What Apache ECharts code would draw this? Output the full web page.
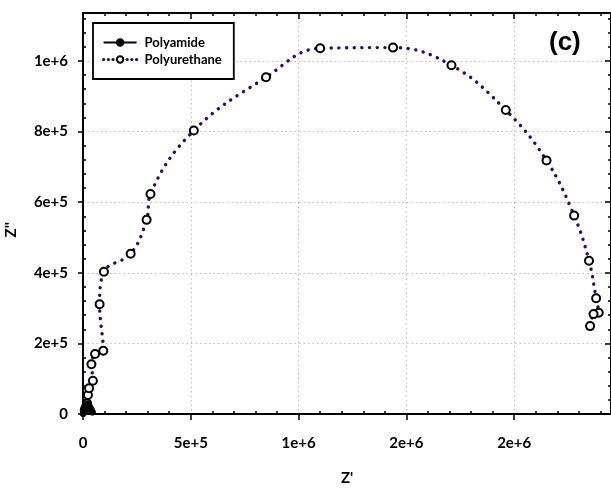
<!DOCTYPE html>
<html>
<head>
<meta charset="utf-8">
<script src="https://cdn.jsdelivr.net/npm/echarts@6/dist/echarts.min.js"></script>
<style>
  html, body { margin: 0; padding: 0; background: #fff; }
  #chart { width: 611px; height: 490px; }
</style>
</head>
<body>
<div id="chart"></div>
<script>
// Nyquist data: Z' (real) vs Z'' (imaginary), ohm
const polyamide = [
  [1e3, 1e3], [3e3, 7e3], [6e3, 1.4e4], [1.0e4, 2.1e4], [1.5e4, 2.6e4],
  [2.1e4, 2.8e4], [2.7e4, 2.5e4], [3.3e4, 1.9e4], [3.9e4, 1.2e4], [4.4e4, 5e3]
];
const polyurethane = [
  [8e3, 1.2e4], [1.4e4, 2.0e4], [1.9e4, 3.0e4], [2.3e4, 5.4e4], [2.8e4, 7.3e4],
  [4.6e4, 9.4e4], [3.9e4, 1.41e5], [5.6e4, 1.70e5], [9.4e4, 1.79e5], [7.7e4, 3.11e5],
  [9.7e4, 4.03e5], [2.21e5, 4.54e5], [2.95e5, 5.50e5], [3.13e5, 6.23e5], [5.14e5, 8.03e5],
  [8.49e5, 9.54e5], [1.10e6, 1.036e6], [1.438e6, 1.038e6], [1.709e6, 9.88e5], [1.961e6, 8.61e5],
  [2.150e6, 7.18e5], [2.278e6, 5.62e5], [2.347e6, 4.34e5], [2.380e6, 3.28e5], [2.392e6, 2.87e5],
  [2.368e6, 2.83e5], [2.352e6, 2.49e5]
];
const xTickLabels = ['0', '5e+5', '1e+6', '2e+6', '2e+6'];
const yTickLabels = ['0', '2e+5', '4e+5', '6e+5', '8e+5', '1e+6'];
const seriesNames = ['Polyamide', 'Polyurethane'];

const X_MAX = 2.449e6, X_STEP = 5e5;
const Y_MAX = 1.136e6, Y_STEP = 2e5;
const FONT = 'Lato, "Open Sans", sans-serif';

const grid = { left: 83, top: 13, width: 529, height: 401, containLabel: false };
const black = '#000';
const purple = '#2e0b5c';

function baseAxis(kind) {
  const isX = kind === 'x';
  return {
    type: 'value',
    min: 0,
    max: isX ? X_MAX : Y_MAX,
    interval: isX ? X_STEP : Y_STEP,
    axisLine: { show: false },
    axisTick: { show: false },
    minorTick: { show: false },
    axisLabel: { show: false },
    splitLine: { show: false },
    minorSplitLine: { show: false }
  };
}

function tickLabel(labels, step) {
  return v => {
    const i = Math.round(v / step);
    return (labels[i] !== undefined && Math.abs(v - i * step) < 1) ? labels[i] : '';
  };
}

const chart = echarts.init(document.getElementById('chart'), null, { renderer: 'canvas' });

chart.setOption({
  backgroundColor: '#fff',
  animation: false,
  grid: [grid, Object.assign({}, grid)],
  xAxis: [
    // bottom axis: line, labels, outward major ticks, dotted grid
    Object.assign(baseAxis('x'), {
      gridIndex: 0, position: 'bottom',
      axisLine: { show: true, onZero: false, lineStyle: { color: black, width: 2 } },
      axisTick: { show: true, inside: false, length: 6, lineStyle: { color: black, width: 1.5 } },
      axisLabel: {
        show: true, margin: 22, showMaxLabel: false,
        color: black, fontFamily: FONT, fontWeight: 'bold', fontSize: 15,
        formatter: tickLabel(xTickLabels, X_STEP)
      },
      splitLine: { show: true, lineStyle: { color: '#bdbdbd', width: 1, type: [1.5, 3] } }
    }),
    // top axis: mirrored line with inward ticks
    Object.assign(baseAxis('x'), {
      gridIndex: 0, position: 'top',
      axisLine: { show: true, onZero: false, lineStyle: { color: black, width: 2 } },
      axisTick: { show: true, inside: true, length: 6, lineStyle: { color: black, width: 1.5 } },
      minorTick: { show: true, splitNumber: 5, length: 3, lineStyle: { color: black, width: 1.5 } }
    }),
    // bottom inward minor ticks
    Object.assign(baseAxis('x'), {
      gridIndex: 1, position: 'bottom',
      axisTick: { show: false, inside: true },
      minorTick: { show: true, splitNumber: 5, length: 3, lineStyle: { color: black, width: 1.5 } }
    })
  ],
  yAxis: [
    Object.assign(baseAxis('y'), {
      gridIndex: 0, position: 'left',
      axisLine: { show: true, onZero: false, lineStyle: { color: black, width: 2 } },
      axisTick: { show: true, inside: false, length: 5, lineStyle: { color: black, width: 1.5 } },
      axisLabel: {
        show: true, margin: 15, showMaxLabel: false,
        color: black, fontFamily: FONT, fontWeight: 'bold', fontSize: 15,
        formatter: tickLabel(yTickLabels, Y_STEP)
      },
      splitLine: { show: true, lineStyle: { color: '#bdbdbd', width: 1, type: [1.5, 3] } }
    }),
    Object.assign(baseAxis('y'), {
      gridIndex: 0, position: 'right',
      axisLine: { show: true, onZero: false, lineStyle: { color: black, width: 2 } },
      axisTick: { show: true, inside: true, length: 6, lineStyle: { color: black, width: 1.5 } },
      minorTick: { show: true, splitNumber: 5, length: 3, lineStyle: { color: black, width: 1.5 } }
    }),
    Object.assign(baseAxis('y'), {
      gridIndex: 1, position: 'left',
      axisTick: { show: false, inside: true },
      minorTick: { show: true, splitNumber: 5, length: 3, lineStyle: { color: black, width: 1.5 } }
    })
  ],
  legend: {
    orient: 'vertical',
    left: 93, top: 23,
    padding: [13, 12, 13, 9],
    itemGap: 4,
    itemWidth: 33, itemHeight: 8,
    backgroundColor: '#fff',
    borderColor: black, borderWidth: 1.8,
    textStyle: { color: black, fontFamily: FONT, fontWeight: 'bold', fontSize: 13, padding: [0, 0, 0, 3] },
    data: [
      { name: seriesNames[0] },
      { name: seriesNames[1], lineStyle: { type: [0.1, 4.6], cap: 'round', width: 3.2 } }
    ]
  },
  series: [
    {
      name: seriesNames[0],
      type: 'line',
      xAxisIndex: 0, yAxisIndex: 0,
      data: polyamide,
      symbol: 'circle', symbolSize: 6,
      lineStyle: { color: black, width: 1.5 },
      itemStyle: { color: black, borderColor: black, borderWidth: 1 },
      z: 3
    },
    {
      name: seriesNames[1],
      type: 'line',
      xAxisIndex: 0, yAxisIndex: 0,
      data: polyurethane,
      smooth: 0.4,
      symbol: 'circle', symbolSize: 8,
      lineStyle: { color: purple, width: 3.4, type: [0.1, 7.6], cap: 'round' },
      itemStyle: { color: '#fff', borderColor: black, borderWidth: 2 },
      z: 2
    }
  ],
  graphic: [
    {
      type: 'text', left: 4, top: 222, rotation: Math.PI / 2,
      style: { text: "Z''", fill: black, font: 'bold 15px ' + FONT }
    },
    {
      type: 'text', left: 549, top: 30,
      style: { text: '(c)', fill: black, font: 'bold 26px "Liberation Sans", Arial, sans-serif' }
    },
    {
      type: 'text', left: 341, top: 471,
      style: { text: "Z'", fill: black, font: 'bold 15px ' + FONT }
    }
  ]
});
</script>
</body>
</html>
